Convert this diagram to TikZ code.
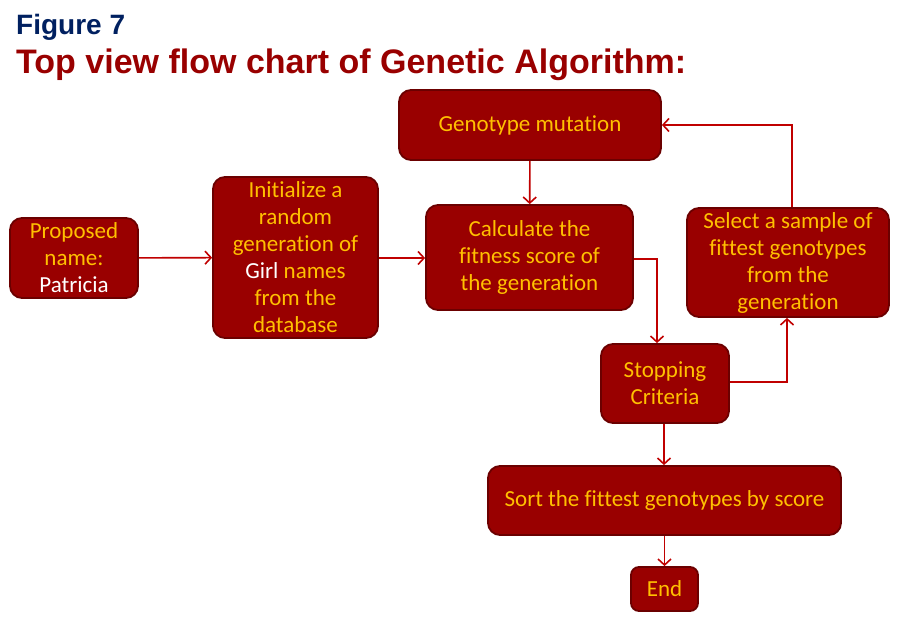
\documentclass[tikz,border=0pt]{standalone}
\usepackage{fontspec}
\setmainfont{Carlito}[Ligatures=NoCommon]
\newfontfamily\arialfont{Liberation Sans}
\usetikzlibrary{arrows.meta}
\definecolor{boxfill}{HTML}{990000}
\definecolor{boxedge}{HTML}{6B0000}
\definecolor{boxtext}{HTML}{FFC000}
\definecolor{flowred}{HTML}{C00000}
\definecolor{navy}{HTML}{002060}
\tikzset{
    box/.style={draw=boxedge, fill=boxfill, line width=1.8pt, rounded corners=12pt, text=boxtext, align=center, inner sep=0pt, font=\fontsize{23}{27}\selectfont},
    flow/.style={draw=flowred, line width=1.6pt, -{Straight Barb[length=6pt,width=13pt]}}
}
\begin{document}
\begin{tikzpicture}[x=1pt, y=-1pt]
    \useasboundingbox (0,0) rectangle (899,617);
    \node [anchor=base west, inner sep=0, text=navy, font=\arialfont\bfseries\fontsize{28}{30}\selectfont] (fig) at (16,35) {Figure 7};
    \node [anchor=base west, inner sep=0, text=boxfill, font=\arialfont\bfseries\fontsize{34}{36}\selectfont] (title) at (16,74) {Top view flow chart of Genetic Algorithm:};
    \node [box, minimum width=128, minimum height=80] (proposed) at (74,258) {Proposed\\name:\\\textcolor{white}{Patricia}};
    \node [box, minimum width=165, minimum height=161] (init) at (295.5,257.5) {Initialize a\\random\\generation of\\\textcolor{white}{Girl} names\\from the\\database};
    \node [box, minimum width=207, minimum height=105] (fitness) at (529.5,257.5) {Calculate the\\fitness score of\\the generation};
    \node [box, minimum width=262, minimum height=70] (mutation) at (530,125) {Genotype mutation};
    \node [box, minimum width=202, minimum height=109] (select) at (788,262.5) {Select a sample of\\fittest genotypes\\from the\\generation};
    \node [box, minimum width=128, minimum height=79] (stopping) at (665,383.5) {Stopping\\Criteria};
    \node [box, minimum width=353, minimum height=69] (sort) at (664.5,500.5) {Sort the fittest genotypes by score};
    \node [box, minimum width=67, minimum height=44, rounded corners=8pt] (end) at (664.5,589) {End};
    \draw [flow] (proposed) -- (init);
    \draw [flow] (init.east |- 0,258) -- (fitness.west |- 0,258);
    \draw [flow] (mutation) -- (fitness);
    \draw [flow] (fitness.east |- 0,259) -| (657,0 |- stopping.north);
    \draw [flow] (stopping.east |- 0,382) -| (787,0 |- select.south);
    \draw [flow] (792,0 |- select.north) |- (mutation.east);
    \draw [flow] (stopping.south -| 664,0) -- (sort.north -| 664,0);
    \draw [flow] (sort) -- (end);
\end{tikzpicture}
\end{document}
